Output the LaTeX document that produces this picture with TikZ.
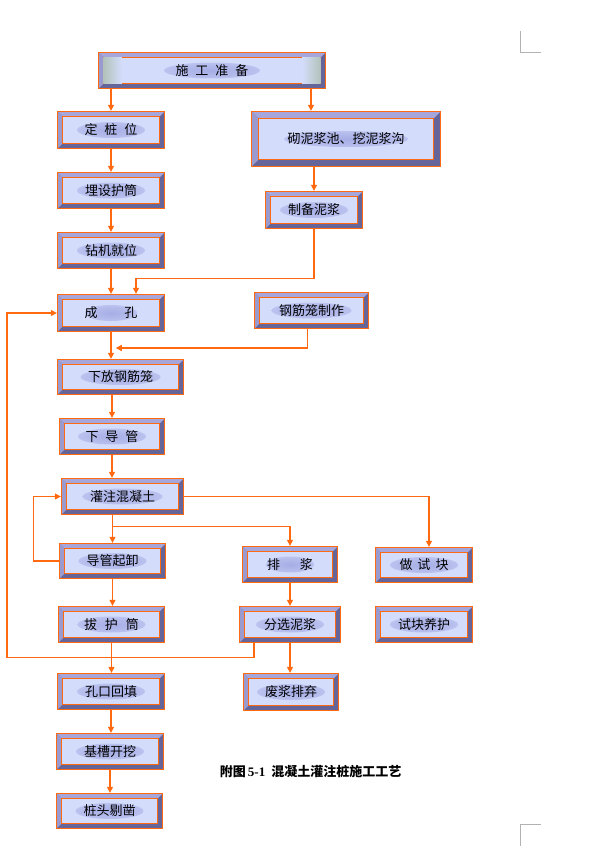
\documentclass[tikz,border=0pt]{standalone}
\usepackage{fontspec}
\newfontfamily\cjk{Noto Sans CJK SC}
\newfontfamily\capnum{Liberation Serif}
\usetikzlibrary{arrows.meta,calc}
\definecolor{flowor}{HTML}{FF6A10}
\definecolor{bevtop}{HTML}{A6A6DA}
\definecolor{bevleft}{HTML}{9A9ACE}
\definecolor{bevdark}{HTML}{65659A}
\definecolor{facec}{HTML}{D4DCFB}
\definecolor{glowc}{HTML}{A6ADE5}
\definecolor{tintc}{HTML}{B2C2BA}
\pgfdeclareradialshading{glowshade}{\pgfpoint{0bp}{0bp}}{color(0bp)=(glowc); color(18bp)=(glowc!70!facec); color(50bp)=(facec)}
\tikzset{
  bevw/.store in=\bevw, bevw=5pt,
  glowr/.store in=\glowr, glowr=34pt,
  fbox/.style={draw=flowor, line width=1.3pt, fill=bevdark, inner sep=0pt,
    minimum width=107pt, minimum height=36pt, text=black,
    font=\cjk\fontsize{13}{13}\selectfont,
    path picture={
      \fill[bevtop] (path picture bounding box.north west) -- (path picture bounding box.north east)
        -- ([shift={(-\bevw,-\bevw)}]path picture bounding box.north east)
        -- ([shift={(\bevw,-\bevw)}]path picture bounding box.north west) -- cycle;
      \fill[bevleft] (path picture bounding box.north west) -- ([shift={(\bevw,-\bevw)}]path picture bounding box.north west)
        -- ([shift={(\bevw,\bevw)}]path picture bounding box.south west) -- (path picture bounding box.south west) -- cycle;
      \fill[facec] ([shift={(\bevw,-\bevw)}]path picture bounding box.north west) rectangle ([shift={(-\bevw,\bevw)}]path picture bounding box.south east);
      \shade[shading=glowshade] (path picture bounding box.center) ellipse [x radius=\glowr, y radius=8pt];
      \draw[flowor, line width=1pt] ([shift={(\bevw,-\bevw)}]path picture bounding box.north west) rectangle ([shift={(-\bevw,\bevw)}]path picture bounding box.south east);
    }},
  flow/.style={draw=flowor, line width=1.2pt, -{Triangle[length=6pt,width=6pt]}},
  link/.style={draw=flowor, line width=1.2pt},
  cropmark/.style={draw=black!30, line width=0.8pt}
}
\begin{document}
\begin{tikzpicture}[x=1pt,y=-1pt]
\useasboundingbox (0,0) rectangle (597,864);
%%%%%%%%%%%%%%%%%%%% page corner marks %%%%%%%%%%%%%%%%%%%%
\draw[cropmark] (520,31) -- (520,52) -- (541,52);
\draw[cropmark] (541,824) -- (520,824) -- (520,846);
%%%%%%%%%%%%%%%%%%%% top row %%%%%%%%%%%%%%%%%%%%
\node[fbox, minimum width=227pt, glowr=48pt] (sgzb) at (212,70.5) {施\hspace{7pt}工\hspace{7pt}准\hspace{7pt}备};
\shade[left color=tintc, right color=facec] ([shift={(5.5pt,-5.5pt)}]sgzb.north west) rectangle ([shift={(24pt,5.5pt)}]sgzb.south west);
\shade[left color=facec, right color=tintc] ([shift={(-24pt,-5.5pt)}]sgzb.north east) rectangle ([shift={(-5.5pt,5.5pt)}]sgzb.south east);
\node[fbox, minimum width=189pt, minimum height=55pt, bevw=7pt, glowr=62pt] (ni) at (346,139) {砌泥浆池、挖泥浆沟};
%%%%%%%%%%%%%%%%%%%% left column %%%%%%%%%%%%%%%%%%%%
\node[fbox, minimum height=37pt] (dzw) at (111,130) {定\hspace{7pt}桩\hspace{7pt}位};
\node[fbox] (msh) at (111,190.5) {埋设护筒};
\node[fbox] (zj) at (111,250.5) {钻机就位};
\node[fbox, minimum height=37pt, glowr=26pt] (ck) at (111,313) {成\hspace{27pt}孔};
\node[fbox, minimum width=126pt, minimum height=35pt, glowr=40pt] (xfg) at (120.5,377) {下放钢筋笼};
\node[fbox, minimum width=105pt] (xdg) at (112,436.5) {下\hspace{7pt}导\hspace{7pt}管};
\node[fbox, minimum width=122pt, glowr=40pt] (gz) at (122.5,496.5) {灌注混凝土};
\node[fbox, minimum width=106pt, minimum height=35pt] (dgqx) at (112.5,561) {导管起卸};
\node[fbox, minimum width=106pt] (bht) at (111.5,624.5) {拔\hspace{8pt}护\hspace{8pt}筒};
\node[fbox] (kkht) at (111,691.5) {孔口回填};
\node[fbox] (jckw) at (110,751.5) {基槽开挖};
\node[fbox, minimum width=106pt, minimum height=35pt] (ztzc) at (109.5,811) {桩头剔凿};
%%%%%%%%%%%%%%%%%%%% right columns %%%%%%%%%%%%%%%%%%%%
\node[fbox, minimum width=97pt, minimum height=37pt] (zbnj) at (314,210) {制备泥浆};
\node[fbox, minimum width=114pt, glowr=40pt] (gjz) at (311.5,310.5) {钢筋笼制作};
\node[fbox, minimum width=95pt, glowr=24pt] (pj) at (290,564.5) {排\hspace{20pt}浆};
\node[fbox, minimum width=101pt] (fxnj) at (290,624.5) {分选泥浆};
\node[fbox, minimum width=95pt, minimum height=37pt] (fjpq) at (291,692) {废浆排弃};
\node[fbox, minimum width=97pt, minimum height=35pt] (zsk) at (424,565) {做\hspace{5pt}试\hspace{5pt}块};
\node[fbox, minimum width=97pt] (sky) at (424,624.5) {试块养护};
%%%%%%%%%%%%%%%%%%%% caption %%%%%%%%%%%%%%%%%%%%
\node[font=\cjk\bfseries\fontsize{13}{13}\selectfont] (cap) at (310.5,772) {附图\,{\capnum\bfseries 5-1}\hspace{6pt}混凝土灌注桩施工工艺};
%%%%%%%%%%%%%%%%%%%% connectors %%%%%%%%%%%%%%%%%%%%
\draw[flow] (dzw.north |- sgzb.south) -- (dzw.north);
\draw[flow] ([xshift=-35pt]ni.north |- sgzb.south) -- ([xshift=-35pt]ni.north);
\draw[flow] (dzw) -- (msh);
\draw[flow] (msh) -- (zj);
\draw[flow] (zj) -- (ck);
\draw[flow] (zbnj.north |- ni.south) -- (zbnj.north);
\draw[flow] (zbnj.south) -- ++(0,49) -| ([xshift=25pt]ck.north);
\draw[flow] (ck.south) -- (ck.south |- xfg.north);
\draw[flow] ([xshift=-4pt]gjz.south) |- ($(ck.south)!.5!(xfg.north)+(0,2.5)$);
\draw[flow] (xdg.north |- xfg.south) -- (xdg.north);
\draw[flow] (xdg.south) -- (xdg.south |- gz.north);
\draw[flow] (dgqx.north |- gz.south) -- (dgqx.north);
\draw[flow] ($(dgqx.north |- gz.south)+(0,11)$) -| (pj.north);
\draw[flow] (gz.east) -| ([xshift=5pt]zsk.north);
\draw[flow] (dgqx.west) -- ++(-25,0) |- (gz.west);
\draw[flow] (dgqx.south) -- (dgqx.south |- bht.north);
\draw[flow] (bht.south) -- (bht.south |- kkht.north);
\draw[flow] (kkht.south) -- (kkht.south |- jckw.north);
\draw[flow] (jckw.south) -- (jckw.south |- ztzc.north);
\draw[flow] (pj) -- (fxnj);
\draw[flow] (fxnj.south) -- (fxnj.south |- fjpq.north);
\draw[flow] ([xshift=-36pt]fxnj.south) -- ++(0,14) -- ++(-247,0) |- (ck.west);
\end{tikzpicture}
\end{document}
